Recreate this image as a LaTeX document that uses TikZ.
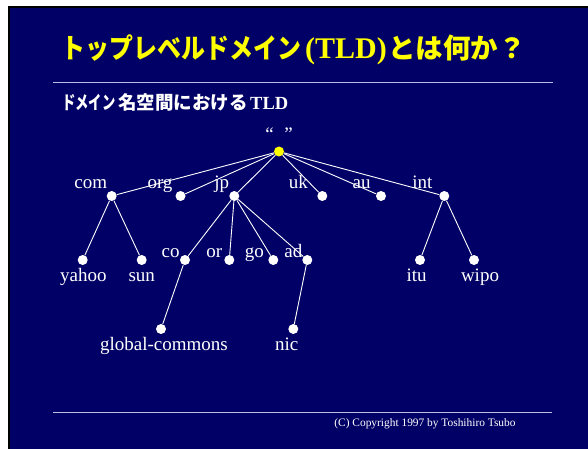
\documentclass[tikz,border=0pt]{standalone}
\usepackage{fontspec}
\setmainfont{Liberation Serif}
\newfontfamily\jpfont{Noto Sans CJK JP}
\definecolor{navy}{RGB}{0,0,102}
\definecolor{rulegray}{RGB}{190,190,225}
\definecolor{ttlyellow}{RGB}{255,255,0}
\begin{document}
\begin{tikzpicture}[x=1pt,y=-1pt,
  dot/.style={circle,fill=white,inner sep=0pt,minimum size=10pt},
  rootdot/.style={circle,fill=ttlyellow,inner sep=0pt,minimum size=10pt},
  lbl/.style={text=white,inner sep=0pt,anchor=base,font=\fontsize{19}{19}\selectfont},
  edge/.style={white,line width=0.9pt},
  rulestyle/.style={rulegray,line width=1.5pt},
  ttl/.style={text=ttlyellow,inner sep=0pt,anchor=base west},
  sub/.style={text=white,inner sep=0pt,anchor=base west}]
\useasboundingbox (0,0) rectangle (588,449);
\fill[white] (0,0) rectangle (588,449);
\fill[black] (8,6) rectangle (588,449);
\fill[navy] (10,8) rectangle (588,449);

% title
\node[ttl,font=\jpfont\fontsize{27.5}{27.5}\selectfont\bfseries] (t1) at (61.5,58.5) {\scalebox{0.87}[1]{トップレベルドメイン}};
\node[ttl,font=\fontsize{30}{30}\selectfont\bfseries] (t2) at (305,58.5) {(TLD)};
\node[ttl,font=\jpfont\fontsize{27.5}{27.5}\selectfont\bfseries] (t3) at (388,58.5) {とは何か？};

\coordinate (r1a) at (53,82.3);
\coordinate (r1b) at (553,82.3);
\draw[rulestyle] (r1a) -- (r1b);

% subtitle
\node[sub,font=\jpfont\fontsize{18.5}{18.5}\selectfont\bfseries] (s1) at (62,109.5) {\scalebox{0.72}[1]{ドメイン}};
\node[sub,font=\jpfont\fontsize{18.5}{18.5}\selectfont\bfseries] (s2) at (118,109.5) {名空間における};
\node[sub,font=\fontsize{18.5}{18.5}\selectfont\bfseries] (s3) at (250,109.5) {TLD};

% dots
\node[rootdot] (root) at (279,151.5) {};
\node[dot] (com) at (111.7,196) {};
\node[dot] (org) at (180.5,196) {};
\node[dot] (jp) at (234.3,196) {};
\node[dot] (uk) at (322.3,196) {};
\node[dot] (au) at (381,196) {};
\node[dot] (int) at (444.3,196) {};
\node[dot] (yahoo) at (82.7,260) {};
\node[dot] (sun) at (141.7,260) {};
\node[dot] (co) at (185,260) {};
\node[dot] (or) at (229.3,260) {};
\node[dot] (go) at (273.3,260) {};
\node[dot] (ad) at (307.3,260) {};
\node[dot] (itu) at (420,260) {};
\node[dot] (wipo) at (474,260) {};
\node[dot] (gc) at (161,329) {};
\node[dot] (nic) at (293.3,329) {};

% edges
\foreach \t in {com,org,jp,uk,au,int} \draw[edge] (root) -- (\t);
\draw[edge] (com) -- (yahoo);
\draw[edge] (com) -- (sun);
\foreach \t in {co,or,go,ad} \draw[edge] (jp) -- (\t);
\draw[edge] (co) -- (gc);
\draw[edge] (ad) -- (nic);
\draw[edge] (int) -- (itu);
\draw[edge] (int) -- (wipo);

% labels
\node[lbl] (Lroot) at (279,141) {“\hspace{10.6pt}”};
\node[lbl] (Lcom) at (90.7,188) {com};
\node[lbl] (Lorg) at (160,188) {org};
\node[lbl] (Ljp) at (221.7,188) {jp};
\node[lbl] (Luk) at (298.3,188) {uk};
\node[lbl] (Lau) at (361.7,188) {au};
\node[lbl] (Lint) at (422.3,188) {int};
\node[lbl] (Lco) at (170.7,257) {co};
\node[lbl] (Lor) at (214.3,257) {or};
\node[lbl] (Lgo) at (254.3,257) {go};
\node[lbl] (Lad) at (293.3,257) {ad};
\node[lbl] (Lyahoo) at (83.3,281) {yahoo};
\node[lbl] (Lsun) at (141.7,281) {sun};
\node[lbl] (Litu) at (416.7,281) {itu};
\node[lbl] (Lwipo) at (480,281) {wipo};
\node[lbl] (Lgc) at (164,350) {global-commons};
\node[lbl] (Lnic) at (286.7,350) {nic};

% footer
\coordinate (r2a) at (53,412.7);
\coordinate (r2b) at (552,412.7);
\draw[rulestyle] (r2a) -- (r2b);
\node[text=white,inner sep=0pt,anchor=base,font=\fontsize{11.4}{11.4}\selectfont] (copy) at (425,426) {(C) Copyright 1997 by Toshihiro Tsubo};
\end{tikzpicture}
\end{document}
